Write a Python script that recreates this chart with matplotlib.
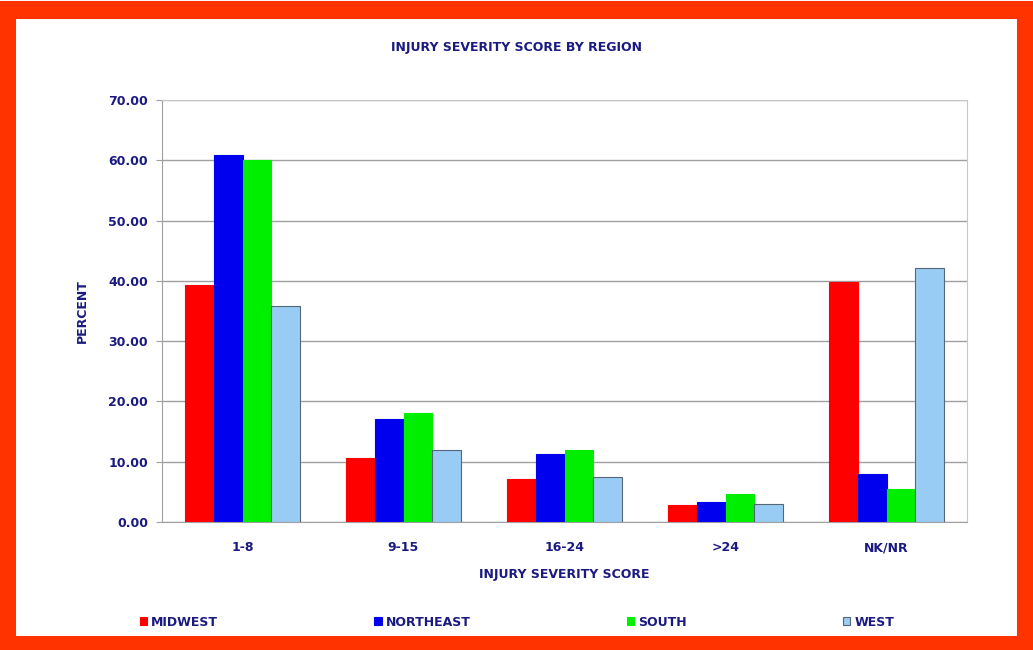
import matplotlib.pyplot as plt
import numpy as np
from matplotlib.patches import Rectangle

categories = ['1-8', '9-15', '16-24', '>24', 'NK/NR']
regions = ['MIDWEST', 'NORTHEAST', 'SOUTH', 'WEST']
midwest = [39.3, 10.6, 7.1, 2.8, 39.8]
northeast = [60.9, 17.1, 11.3, 3.3, 8.0]
south = [60.0, 18.1, 11.9, 4.6, 5.5]
west = [35.8, 11.9, 7.5, 3.0, 42.1]
colors = ['#ff0000', '#0000ee', '#00ee00', '#99ccf5']
navy = '#1a1a80'

fig = plt.figure(figsize=(10.33, 6.5), dpi=100)
fig.patch.set_facecolor('white')
# red frame around the chart
fig.patches.append(Rectangle((0.007, 0.008), 0.986, 0.977, transform=fig.transFigure,
                             fill=False, edgecolor='#ff3300', linewidth=13))

ax = fig.add_axes([162/1033, 1-522/650, 805/1033, 422/650])
x = np.arange(len(categories))
w = 0.18
series = [midwest, northeast, south, west]
for i, vals in enumerate(series):
    edge = '#556677' if i == 3 else colors[i]
    ax.bar(x + (i - 1.5) * w, vals, w, color=colors[i], edgecolor=edge,
           linewidth=0.8, label=regions[i], zorder=3)

ax.set_xlim(-0.5, 4.5)
ax.set_ylim(0, 70)
ax.set_yticks(np.arange(0, 71, 10))
ax.set_yticklabels(['%.2f' % v for v in np.arange(0, 71, 10)])
ax.set_xticks(x)
ax.set_xticklabels(categories)
ax.grid(axis='y', color='#a0a0a0', linewidth=1, zorder=0)
for s in ['top', 'right']:
    ax.spines[s].set_color('#c8c8c8')
ax.spines['left'].set_color('#a0a0a0')
ax.spines['bottom'].set_color('#a0a0a0')
ax.tick_params(axis='y', length=4, color='#a0a0a0', labelcolor=navy, labelsize=9, pad=6)
ax.tick_params(axis='x', length=0, labelcolor=navy, labelsize=9, pad=14)
for lab in ax.get_xticklabels() + ax.get_yticklabels():
    lab.set_fontweight('bold')

ax.set_ylabel('PERCENT', color=navy, fontsize=9, fontweight='bold', labelpad=14)
ax.set_xlabel('INJURY SEVERITY SCORE', color=navy, fontsize=9, fontweight='bold', labelpad=10)
fig.text(0.5, 1-47/650, 'INJURY SEVERITY SCORE BY REGION', ha='center', va='center',
         color=navy, fontsize=9, fontweight='bold')

leg = fig.legend(loc='center', bbox_to_anchor=(517/1033, 1-622/650), ncol=4, frameon=False,
                 handlelength=0.6, handleheight=0.6, handletextpad=0.3, columnspacing=12.5,
                 fontsize=9)
for t in leg.get_texts():
    t.set_color(navy)
    t.set_fontweight('bold')

fig.savefig('out.png', dpi=100)
